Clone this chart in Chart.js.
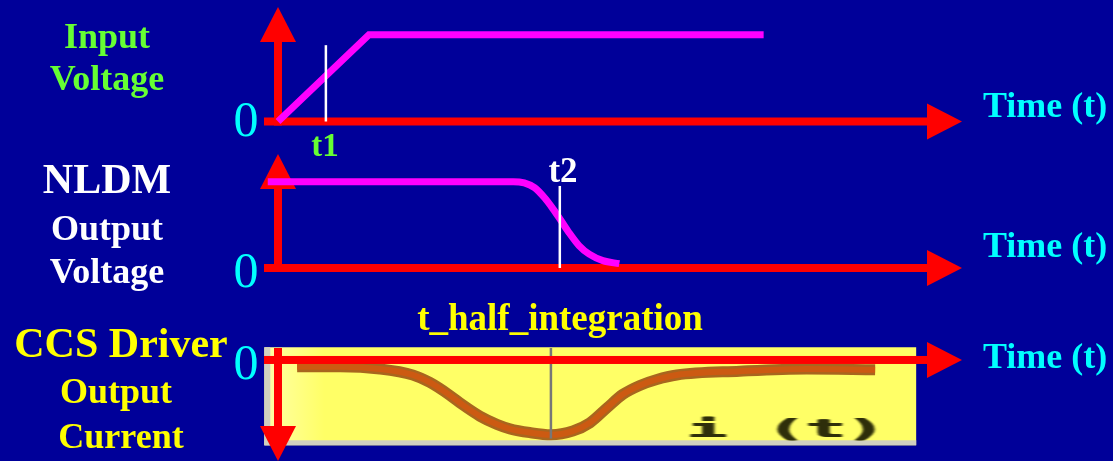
<!DOCTYPE html>
<html><head><meta charset="utf-8">
<script src="https://cdn.jsdelivr.net/npm/chart.js@4"></script>
<style>
html,body{margin:0;padding:0;background:#000099;width:1113px;height:461px;overflow:hidden}
#wrap{position:relative;width:1113px;height:461px}
canvas{position:absolute;left:0;top:0}
.lbl{position:absolute;white-space:nowrap;font-family:'Liberation Serif','Times New Roman',serif;font-weight:bold;line-height:1;transform:translateX(-50%)}
.left{transform:none}
.zero{font-weight:normal;color:#00ffff;font-size:50px}
.time{color:#00ffff;font-size:36px}
</style></head><body>
<div id="wrap">
<canvas id="c1" width="1113" height="461"></canvas>
<canvas id="c2" width="1113" height="461"></canvas>
<canvas id="c3" width="1113" height="461"></canvas>

<div class="lbl" style="left:107px;top:18px;font-size:36px;color:#66ff33">Input</div>
<div class="lbl" style="left:107px;top:60px;font-size:36px;color:#66ff33">Voltage</div>
<div class="lbl" style="left:107px;top:158px;font-size:42px;color:#ffffff">NLDM</div>
<div class="lbl" style="left:107px;top:210px;font-size:36px;color:#ffffff">Output</div>
<div class="lbl" style="left:107px;top:253px;font-size:36px;color:#ffffff">Voltage</div>
<div class="lbl" style="left:121px;top:322px;font-size:42px;color:#ffff00">CCS Driver</div>
<div class="lbl" style="left:116px;top:373px;font-size:36px;color:#ffff00">Output</div>
<div class="lbl" style="left:121px;top:418px;font-size:36px;color:#ffff00">Current</div>

<div class="lbl zero" style="left:246px;top:94px">0</div>
<div class="lbl zero" style="left:246px;top:245px">0</div>
<div class="lbl zero" style="left:246px;top:337px">0</div>

<div class="lbl left time" style="left:983px;top:87px">Time (t)</div>
<div class="lbl left time" style="left:983px;top:227px">Time (t)</div>
<div class="lbl left time" style="left:983px;top:338px">Time (t)</div>

<div class="lbl" style="left:325px;top:129px;font-size:33px;color:#66ff33">t1</div>
<div class="lbl" style="left:563px;top:153px;font-size:35px;color:#ffffff">t2</div>
<div class="lbl" style="left:560px;top:299px;font-size:37px;color:#ffff00">t_half_integration</div>
<div style="position:absolute;left:687px;top:417px;font-family:'DejaVu Sans Mono',monospace;font-weight:bold;font-size:24px;line-height:1;color:#2e2e0a;white-space:pre;transform-origin:0 0;transform:scaleX(2.75);filter:blur(0.5px);text-shadow:0.5px 0 0 #2e2e0a,-0.5px 0 0 #2e2e0a">i (t)</div>
</div>

<script>
// Shared time range (arbitrary units)
const timeRange = [0, 10];

// Panel 1: input voltage ramp
const inputTime = [0, 1.33, 7.1];
const inputVolt = [0, 1, 1];
const t1Time = [0.70, 0.70];
const t1Span = [0, 0.88];

// Panel 2: NLDM output voltage
const nldmTime = [-0.15, 3.44, 3.60, 3.75, 3.90, 4.02, 4.12, 4.25, 4.40, 4.55, 4.75, 4.99];
const nldmVolt = [1.0, 1.0, 0.985, 0.93, 0.81, 0.685, 0.57, 0.415, 0.26, 0.16, 0.085, 0.05];
const t2Time = [4.12, 4.12];
const t2Span = [0, 0.95];

// Panel 3: CCS driver output current
const ccsTime = [0.28, 0.91, 1.49, 1.97, 2.22, 2.51, 2.70, 2.95, 3.20, 3.39, 3.68, 3.99, 4.31, 4.56, 4.81, 5.04, 5.29, 5.54, 5.83, 6.75, 7.73, 8.73];
const ccsCurr = [-0.09, -0.09, -0.12, -0.20, -0.30, -0.47, -0.60, -0.75, -0.86, -0.92, -0.97, -1.00, -0.95, -0.84, -0.64, -0.46, -0.34, -0.26, -0.20, -0.15, -0.12, -0.13];
const tHalfTime = [3.99, 3.99];
const tHalfSpan = [0.16, -1.05];

const pts = (xs, ys) => xs.map((v, i) => ({x: v, y: ys[i]}));

function tri(ctx, a, b, c) {
  ctx.beginPath(); ctx.moveTo(a[0], a[1]); ctx.lineTo(b[0], b[1]); ctx.lineTo(c[0], c[1]); ctx.closePath(); ctx.fill();
}
function drawAxes(chart, o) {
  const {ctx, chartArea: a, scales: {x, y}} = chart;
  const x0 = x.getPixelForValue(0), y0 = y.getPixelForValue(0);
  const w = o.width, head = o.head, hw = o.headHalf;
  ctx.save();
  ctx.fillStyle = o.color;
  const xs = x0 + o.hOffset, xe = a.right;
  ctx.fillRect(xs, y0 - w / 2, xe - head - xs + 1, w);
  tri(ctx, [xe - head, y0 - hw], [xe, y0], [xe - head, y0 + hw]);
  if (o.dir === 'up') {
    const tip = a.top;
    ctx.fillRect(x0 - w / 2, tip + head - 1, w, y0 + w / 2 - tip - head + 1);
    tri(ctx, [x0 - hw, tip + head], [x0, tip], [x0 + hw, tip + head]);
  } else {
    const tip = a.bottom;
    ctx.fillRect(x0 - w / 2, a.top, w, tip - head - a.top + 1);
    tri(ctx, [x0 - hw, tip - head], [x0, tip], [x0 + hw, tip - head]);
  }
  ctx.restore();
}
function drawBox(chart, b) {
  const {ctx, scales: {x, y}} = chart;
  const l = x.getPixelForValue(b.x0), r = x.getPixelForValue(b.x1);
  const t = y.getPixelForValue(b.y0), bt = y.getPixelForValue(b.y1);
  ctx.save();
  const g = ctx.createLinearGradient(l, 0, l + 60, 0);
  g.addColorStop(0, '#ffffa8'); g.addColorStop(1, b.fill);
  ctx.fillStyle = g;
  ctx.fillRect(l, t, r - l, bt - t);
  ctx.fillStyle = b.edge;
  ctx.fillRect(l, t, 6, bt - t);
  ctx.fillRect(l, bt - 5, r - l, 5);
  ctx.restore();
}
const arrowAxes = {
  id: 'arrowAxes',
  beforeDatasetsDraw(chart, args, o) {
    if (o.box) drawBox(chart, o.box);
    if (!o.onTop) drawAxes(chart, o);
  },
  afterDatasetsDraw(chart, args, o) {
    if (o.onTop) drawAxes(chart, o);
  }
};

function makeChart(id, pad, yMin, yMax, datasets, axisOpts) {
  return new Chart(document.getElementById(id), {
    type: 'line',
    data: {datasets},
    options: {
      responsive: false, animation: false, events: [],
      layout: {padding: pad},
      clip: false,
      elements: {point: {radius: 0}, line: {fill: false}},
      scales: {
        x: {type: 'linear', min: timeRange[0], max: timeRange[1], display: false},
        y: {type: 'linear', min: yMin, max: yMax, display: false}
      },
      plugins: {legend: {display: false}, tooltip: {enabled: false}, arrowAxes: axisOpts}
    },
    plugins: [arrowAxes]
  });
}

const axisBase = {color: '#ff0000', width: 8, head: 35, headHalf: 18, hOffset: -14};

makeChart('c1', {left: 278, right: 151, top: 7, bottom: 339.5}, 0, 1.32, [
  {data: pts(t1Time, t1Span), borderColor: '#ffffff', borderWidth: 2.5, order: 0, clip: false},
  {data: pts(inputTime, inputVolt), borderColor: '#ff00ff', borderWidth: 7, tension: 0, order: 1, clip: false}
], Object.assign({}, axisBase, {dir: 'up', onTop: false}));

makeChart('c2', {left: 278, right: 151, top: 154, bottom: 193}, 0, 1.32, [
  {data: pts(t2Time, t2Span), borderColor: '#ffffff', borderWidth: 2.5, order: 0, clip: false},
  {data: pts(nldmTime, nldmVolt), borderColor: '#ff00ff', borderWidth: 7, cubicInterpolationMode: 'monotone', order: 1, clip: false}
], Object.assign({}, axisBase, {dir: 'up', onTop: false}));

makeChart('c3', {left: 278, right: 151, top: 348, bottom: 0}, -1.35, 0.16, [
  {data: pts(tHalfTime, tHalfSpan), borderColor: '#777777', borderWidth: 2.5, order: 0, clip: false},
  {data: pts(ccsTime, ccsCurr), borderColor: '#cc5a12', borderWidth: 6, cubicInterpolationMode: 'monotone', borderJoinStyle: 'round', order: 1, clip: false},
  {data: pts(ccsTime, ccsCurr), borderColor: '#a8661e', borderWidth: 11, cubicInterpolationMode: 'monotone', borderJoinStyle: 'round', order: 2, clip: false}
], Object.assign({}, axisBase, {dir: 'down', onTop: true,
  box: {x0: -0.2, x1: 9.33, y0: 0.17, y1: -1.14, fill: '#ffff66', edge: '#d0d0c0'}}));
</script>
</body></html>
